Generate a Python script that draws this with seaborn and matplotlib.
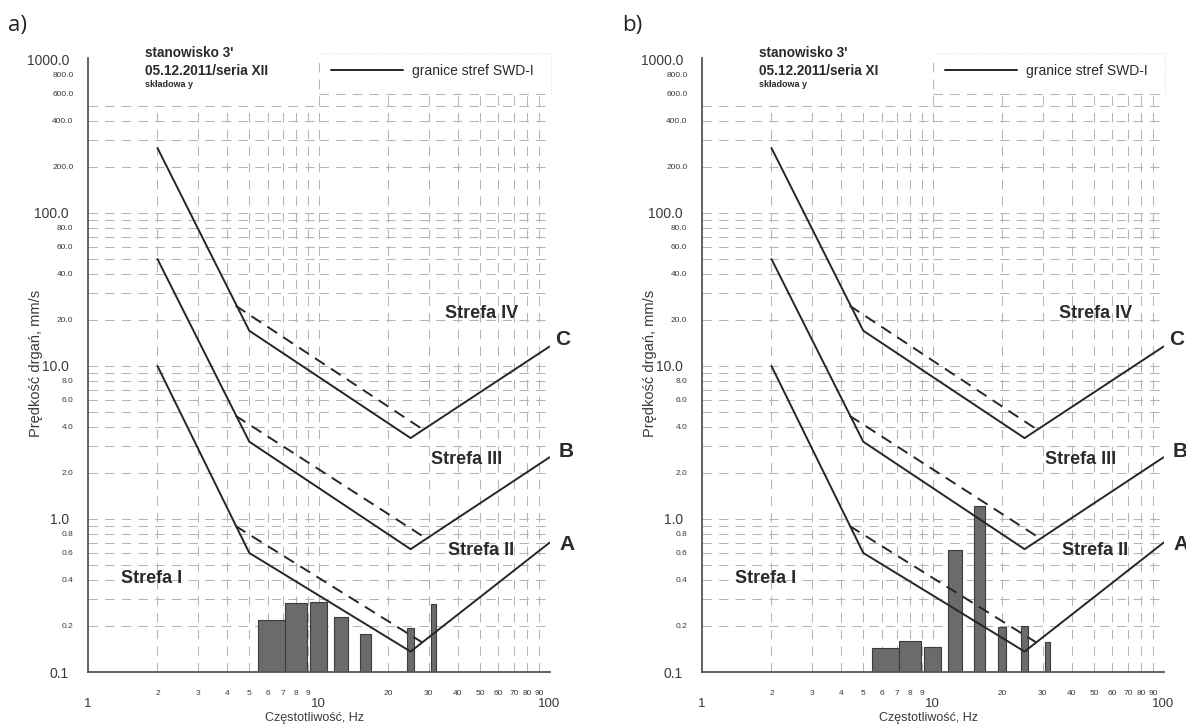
import numpy as np
import pandas as pd
import matplotlib
matplotlib.use("Agg")
import matplotlib.pyplot as plt
import seaborn as sns

# ---------------- data ----------------
boundary_freq = [2, 5, 25, 100]
boundary_A = [10.0, 0.60, 0.136, 0.70]
boundary_B = [50.0, 3.2, 0.635, 2.53]
boundary_C = [266.0, 17.0, 3.38, 13.4]

shifted_freq = [4.36, 28.1]
shifted_A = [0.90, 0.156]
shifted_B = [4.73, 0.775]
shifted_C = [24.8, 3.87]

bands_a = [6.3, 8, 10, 12.5, 16, 25, 31.5]
velocity_a = [0.219, 0.282, 0.285, 0.228, 0.177, 0.195, 0.277]
bands_b = [6.3, 8, 10, 12.5, 16, 20, 25, 31.5]
velocity_b = [0.143, 0.160, 0.146, 0.627, 1.22, 0.196, 0.199, 0.156]

panel_letters = ["a)", "b)"]
series_titles = ["05.12.2011/seria XII", "05.12.2011/seria XI"]
site_title = "stanowisko 3'"
component = "składowa y"
legend_text = "granice stref SWD-I"
zone_names = ["Strefa I", "Strefa II", "Strefa III", "Strefa IV"]
zone_pos = [(1.89, 0.41), (50.3, 0.62), (43.5, 2.43), (50.7, 22.1)]
curve_names = ["A", "B", "C"]
curve_label_pos = [(110, 0.68), (110, 2.77), (106, 14.8)]

y_major = [0.1, 1, 10, 100, 1000]
y_major_labels = ["0.1", "1.0", "10.0", "100.0", "1000.0"]
y_minor = [m * d for d in [0.1, 1, 10, 100] for m in range(2, 10)]
y_minor_labels = [(f"{v:.1f}" if m % 2 == 0 else "")
                  for v, m in zip(y_minor, [m for d in range(4) for m in range(2, 10)])]
x_major = [1, 10, 100]
x_major_labels = ["1", "10", "100"]
x_minor = [m * d for d in [1, 10] for m in range(2, 10)]
x_minor_labels = [str(v) for v in x_minor]

# ---------------- style ----------------
sns.set_theme(style="white")
plt.rcParams['font.family'] = ['Liberation Sans', 'DejaVu Sans']

W, H = 1186, 726
fig = plt.figure(figsize=(W / 100, H / 100), dpi=100)

LINE = "#262626"
GRID = "#b4b4b4"
AXC = "#555555"
TXT = "#2a2a2a"

boundaries = pd.DataFrame({
    "freq": boundary_freq * 3,
    "vel": boundary_A + boundary_B + boundary_C,
    "zone": ["A"] * 4 + ["B"] * 4 + ["C"] * 4,
})
shifted = pd.DataFrame({
    "freq": shifted_freq * 3,
    "vel": shifted_A + shifted_B + shifted_C,
    "zone": ["A"] * 2 + ["B"] * 2 + ["C"] * 2,
})

def draw_panel(x0px, bands, vel, title, letter):
    ax = fig.add_axes([x0px / W, (H - 672) / H, 461.5 / W, 621.3 / H])
    ax.set_xscale("log")
    ax.set_yscale("log")
    ax.set_xlim(1, 100)
    ax.set_ylim(0.1, 1150)
    ax.set_facecolor("white")

    # grid (dashed), two regions like the original
    gkw = dict(color=GRID, lw=0.75, linestyle=(0, (9, 7)), zorder=0)
    ys_all = [v for v in sorted(y_major + y_minor) if v > 0.1]
    for y in [v for v in ys_all if v <= 500]:
        ax.plot([1, 10], [y, y], **gkw)
    for y in [v for v in ys_all if v <= 600]:
        ax.plot([10, 100], [y, y], **gkw)
    for x in range(2, 10):
        ax.plot([x, x], [0.1, 500], **gkw)
    for x in list(range(20, 100, 10)) + [100]:
        ax.plot([x, x], [0.1, 600], **gkw)
    ax.plot([10, 10], [0.1, 1040], **gkw)
    fkw = dict(color="#e2e2e2", lw=0.7, linestyle=(0, (1.5, 2)), zorder=0, clip_on=False)
    ax.plot([10, 102], [1117, 1117], **fkw)
    ax.plot([102, 102], [600, 1117], **fkw)

    # bars
    ax.bar(bands, np.array(vel) - 0.1, bottom=0.1, width=1.7,
           color="#6b6b6b", edgecolor="#3c3c3c", linewidth=0.8, zorder=2)

    # zone boundaries
    for i, z in enumerate(["A", "B", "C"]):
        d = boundaries[boundaries.zone == z]
        sns.lineplot(data=d, x="freq", y="vel", ax=ax, color=LINE, lw=1.4,
                     sort=False, estimator=None, zorder=3,
                     label=legend_text if i == 0 else None)
        s = shifted[shifted.zone == z]
        sns.lineplot(data=s, x="freq", y="vel", ax=ax, color=LINE, lw=1.4,
                     sort=False, estimator=None, zorder=3,
                     linestyle=(0, (6, 3.8)))

    leg = ax.legend(loc="center left", bbox_to_anchor=(0.527, 0.968),
                    frameon=False, fontsize=10, handlelength=5.2,
                    handletextpad=0.62, borderpad=0, borderaxespad=0)
    for t in leg.get_texts():
        t.set_color(TXT)
    for h in leg.get_lines():
        h.set_linewidth(1.4)

    # axes and ticks
    for sp in ["top", "right"]:
        ax.spines[sp].set_visible(False)
    ax.spines["left"].set_bounds(0.1, 1035)
    ax.spines["bottom"].set_bounds(1, 100)
    for sp in ["left", "bottom"]:
        ax.spines[sp].set_color(AXC)
        ax.spines[sp].set_linewidth(1.3)
        ax.spines[sp].set_zorder(4)

    ax.set_yticks(y_major, labels=y_major_labels)
    ax.set_yticks(y_minor, labels=y_minor_labels, minor=True)
    ax.set_xticks(x_major, labels=x_major_labels)
    ax.set_xticks(x_minor, labels=x_minor_labels, minor=True)
    ax.tick_params(axis="y", which="major", direction="inout", length=12,
                   width=1, color=AXC, pad=7.7, labelsize=10, labelcolor="#3a3a3a")
    ax.tick_params(axis="y", which="minor", direction="inout", length=12,
                   width=1, color=AXC, pad=4.4, labelsize=6, labelcolor="#3a3a3a")
    ax.tick_params(axis="x", which="major", direction="out", length=10,
                   width=1, color=AXC, pad=9, labelsize=9.5, labelcolor="#3a3a3a")
    ax.tick_params(axis="x", which="minor", direction="out", length=5.5,
                   width=1, color=AXC, pad=7.2, labelsize=6, labelcolor="#3a3a3a")
    ax.set_xlabel("")
    ax.set_ylabel("")

    ax.text(-0.1126, 0.4965, "Prędkość drgań, mm/s", transform=ax.transAxes,
            rotation=90, ha="center", va="center", fontsize=10.5, color="#3a3a3a")
    ax.text(9.6, -0.074, "Częstotliwość, Hz",
            transform=ax.get_xaxis_transform(), ha="center", va="center",
            fontsize=9, color="#3a3a3a")

    # titles
    ax.text(1.765, 1051, site_title, fontsize=9.8, fontweight="bold",
            color=TXT, va="baseline", ha="left", clip_on=False)
    ax.text(1.765, 798, title, fontsize=9.8, fontweight="bold",
            color=TXT, va="baseline", ha="left", clip_on=False)
    ax.text(1.765, 669, component, fontsize=6.5, fontweight="bold",
            color=TXT, va="baseline", ha="left", clip_on=False)

    for name, (zx, zy) in zip(zone_names, zone_pos):
        ax.text(zx, zy, name, fontsize=13, fontweight="bold", color=TXT,
                ha="center", va="center", zorder=5)
    for name, (cx, cy) in zip(curve_names, curve_label_pos):
        ax.text(cx, cy, name, fontsize=15, fontweight="bold", color=TXT,
                ha="left", va="center", clip_on=False, zorder=5)

    fig.text((x0px - 80) / W, 1 - 26 / H, letter, fontsize=16,
             family=["Open Sans", "DejaVu Sans"], color="#222222",
             ha="left", va="center")
    return ax

draw_panel(88, bands_a, velocity_a, series_titles[0], panel_letters[0])
draw_panel(702, bands_b, velocity_b, series_titles[1], panel_letters[1])

fig.savefig("out.png", dpi=100, facecolor="white")
